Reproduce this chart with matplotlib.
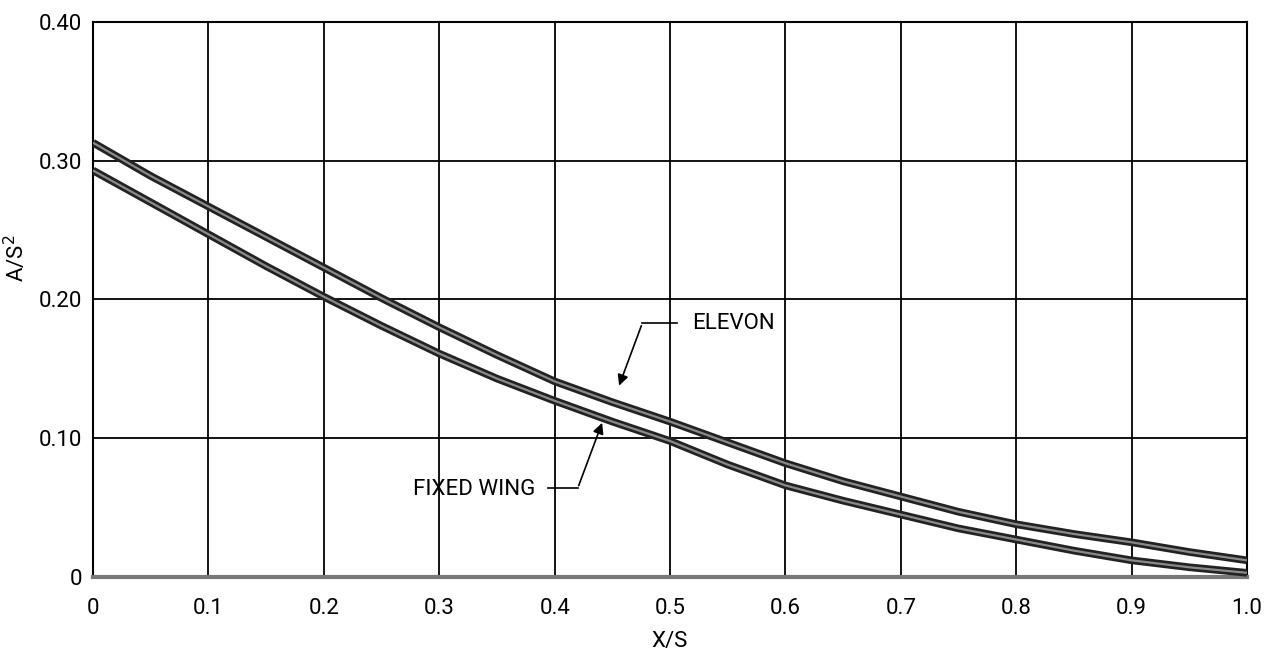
import matplotlib
matplotlib.use("Agg")
import matplotlib.pyplot as plt

# x/s stations and area ratio readings
xs = [0.0, 0.05, 0.1, 0.15, 0.2, 0.25, 0.3, 0.35, 0.4, 0.45, 0.5,
      0.55, 0.6, 0.65, 0.7, 0.75, 0.8, 0.85, 0.9, 0.95, 1.0]
elevon = [0.313, 0.289, 0.267, 0.245, 0.223, 0.201, 0.180, 0.160, 0.141, 0.126, 0.112,
          0.097, 0.082, 0.069, 0.058, 0.047, 0.038, 0.031, 0.025, 0.018, 0.012]
fixed_wing = [0.293, 0.270, 0.247, 0.224, 0.202, 0.181, 0.161, 0.143, 0.127, 0.112, 0.098,
              0.081, 0.066, 0.055, 0.045, 0.035, 0.027, 0.019, 0.012, 0.007, 0.003]

xticks = [0.0, 0.1, 0.2, 0.3, 0.4, 0.5, 0.6, 0.7, 0.8, 0.9, 1.0]
xlabels = ["0", "0.1", "0.2", "0.3", "0.4", "0.5", "0.6", "0.7", "0.8", "0.9", "1.0"]
yticks = [0.0, 0.1, 0.2, 0.3, 0.4]
ylabels = ["0", "0.10", "0.20", "0.30", "0.40"]

plt.rcParams["font.family"] = ["Roboto", "DejaVu Sans"]


def main():
    fig = plt.figure(figsize=(12.66, 6.53), dpi=100)
    ax = fig.add_axes([0.0735, 0.1164, 0.9115, 0.8499])

    # curves: dark outline with lighter core, like the scanned double line
    for ys in (elevon, fixed_wing):
        ax.plot(xs, ys, color="#222222", lw=5.5, solid_capstyle="butt", zorder=3)
        ax.plot(xs, ys, color="#8a8a8a", lw=1.6, solid_capstyle="butt", zorder=4)

    ax.set_xlim(0, 1.0)
    ax.set_ylim(0, 0.40)
    ax.set_xticks(xticks)
    ax.set_xticklabels(xlabels)
    ax.set_yticks(yticks)
    ax.set_yticklabels(ylabels)
    ax.tick_params(length=0, labelsize=16)
    ax.tick_params(axis="x", pad=15)
    ax.tick_params(axis="y", pad=8)
    ax.grid(True, color="black", lw=1.3)
    ax.set_axisbelow(True)
    for s in ax.spines.values():
        s.set_linewidth(1.5)
    ax.spines["bottom"].set_color("#777777")
    ax.spines["bottom"].set_linewidth(3)

    ax.set_xlabel("X/S", fontsize=16, labelpad=9)
    ax.set_ylabel("A/S$^2$", fontsize=16)
    ax.yaxis.set_label_coords(-0.055, 0.575)

    # leader lines
    arrow = dict(arrowstyle="-|>", color="black", lw=1.2, mutation_scale=16)
    ax.plot([0.476, 0.506], [0.183, 0.183], color="black", lw=1.2)
    ax.annotate("", xy=(0.455, 0.136), xytext=(0.476, 0.183), arrowprops=arrow)
    ax.text(0.519, 0.183, "ELEVON", fontsize=16, va="center", ha="left")

    ax.plot([0.394, 0.420], [0.064, 0.064], color="black", lw=1.2)
    ax.annotate("", xy=(0.442, 0.113), xytext=(0.420, 0.064), arrowprops=arrow)
    ax.text(0.383, 0.063, "FIXED WING", fontsize=16, va="center", ha="right")

    fig.savefig("out.png", dpi=100)
    plt.close(fig)


if __name__ == "__main__":
    main()
